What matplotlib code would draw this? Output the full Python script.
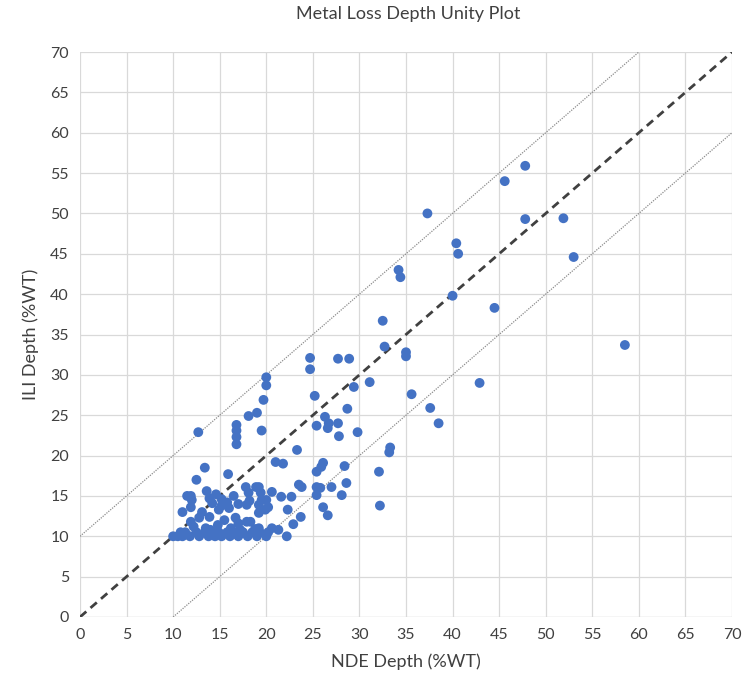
import matplotlib
matplotlib.use("Agg")
import matplotlib.pyplot as plt
import numpy as np

plt.rcParams['font.family'] = ['Lato', 'DejaVu Sans']

title = "Metal Loss Depth Unity Plot"
x_label = "NDE Depth (%WT)"
y_label = "ILI Depth (%WT)"
ticks = list(range(0, 75, 5))

nde = [58.5, 53.0, 51.9, 47.8, 45.6, 47.8, 44.5, 42.9, 40.4, 40.6, 40.0, 37.3, 34.2, 34.4,
       38.5, 37.6, 35.6, 35.0, 35.0, 32.7, 32.5, 31.1, 29.4, 28.9, 27.7, 24.7, 24.7, 25.2,
       28.7, 26.3, 26.7, 27.7, 26.6, 25.4, 27.8, 29.8, 33.3, 33.2, 23.3, 20.0, 20.0, 19.7,
       19.5, 19.0, 18.1, 16.8, 16.8, 16.8, 16.8, 12.7, 32.1, 32.2,
       21.0, 21.8, 26.1, 25.9, 25.4, 28.4, 28.6, 23.5, 23.8, 25.4, 25.8, 27.0, 28.1, 25.4,
       13.4, 15.9, 12.5, 17.8, 18.9, 19.2, 18.1, 19.4, 20.6, 11.5, 11.9, 13.6, 13.9, 15.2,
       15.8, 14.2, 14.9, 21.6, 22.7, 19.5, 20.0, 20.2, 19.9, 17.9, 19.2, 22.3, 26.1, 26.6,
       23.7, 22.9, 20.6, 22.2, 19.2, 19.2, 11.9, 11.0, 13.1, 12.8, 13.9, 16.7, 17.0, 17.9,
       18.3, 11.9,
       11.3, 12.5, 13.4, 14.3, 14.9, 15.8, 16.7, 17.5, 18.5, 19.3, 20.2,
       10.0, 10.5, 11.0, 11.8, 12.8, 13.8, 14.5, 15.2, 16.1, 17.0, 18.0, 19.0, 20.0,
       12.2, 13.5, 14.8, 15.5, 16.2, 14.0, 17.2, 18.8, 12.0, 16.0, 15.2, 17.0, 18.2, 16.5,
       14.6, 10.8, 21.3]
ili = [33.7, 44.6, 49.4, 55.9, 54.0, 49.3, 38.3, 29.0, 46.3, 45.0, 39.8, 50.0, 43.0, 42.1,
       24.0, 25.9, 27.6, 32.8, 32.3, 33.5, 36.7, 29.1, 28.5, 32.0, 32.0, 32.1, 30.7, 27.4,
       25.8, 24.8, 24.0, 24.0, 23.4, 23.7, 22.4, 22.9, 21.0, 20.4, 20.7, 29.7, 28.7, 26.9,
       23.1, 25.3, 24.9, 23.8, 23.1, 22.3, 21.4, 22.9, 18.0, 13.8,
       19.2, 19.0, 19.1, 18.6, 18.0, 18.7, 16.6, 16.4, 16.1, 16.1, 16.0, 16.1, 15.1, 15.1,
       18.5, 17.7, 17.0, 16.1, 16.1, 16.1, 15.4, 15.4, 15.5, 15.0, 15.0, 15.6, 14.7, 14.6,
       14.2, 14.1, 13.3, 14.9, 14.9, 14.5, 14.5, 13.6, 13.3, 13.9, 13.9, 13.3, 13.6, 12.6,
       12.4, 11.5, 11.0, 10.0, 12.9, 11.0, 13.6, 13.0, 13.0, 12.3, 12.4, 12.3, 11.6, 11.8,
       11.8, 11.8,
       10.5, 10.5, 10.5, 10.5, 10.5, 10.5, 10.5, 10.5, 10.5, 10.5, 10.5,
       10.0, 10.0, 10.0, 10.0, 10.0, 10.0, 10.0, 10.0, 10.0, 10.0, 10.0, 10.0, 10.0,
       11.2, 11.0, 11.4, 12.0, 11.0, 10.8, 10.8, 10.9, 14.5, 13.5, 13.8, 14.0, 14.4, 15.0,
       15.2, 10.5, 10.8]

unity = [0, 70]
upper_x = [0, 60]
upper_y = [10, 70]
lower_x = [10, 70]
lower_y = [0, 60]

fig = plt.figure(figsize=(7.43, 6.90), dpi=100)
ax = fig.add_axes([80/743, 73/690, 652/743, 565/690])

ax.set_xlim(0, 70)
ax.set_ylim(0, 70)
ax.set_xticks(ticks)
ax.set_yticks(ticks)
ax.grid(True, color='#d9d9d9', linewidth=0.9)
ax.set_axisbelow(True)
for s in ax.spines.values():
    s.set_visible(False)
ax.axhline(0, color='#d9d9d9', linewidth=0.9, zorder=0)
ax.tick_params(length=0, labelsize=11.5, colors='#404040', pad=8)

ax.plot(upper_x, upper_y, color='#8c8c8c', linestyle=(0, (1, 1)), linewidth=0.9, zorder=2)
ax.plot(lower_x, lower_y, color='#8c8c8c', linestyle=(0, (1, 1)), linewidth=0.9, zorder=2)
ax.plot(unity, unity, color='#404040', linestyle=(0, (3, 2)), linewidth=2.0, zorder=2)

ax.scatter(nde, ili, s=50, color='#4472C4', edgecolors='none', zorder=3)

ax.set_xlabel(x_label, fontsize=13, color='#404040', labelpad=8)
ax.set_ylabel(y_label, fontsize=13, color='#404040', labelpad=8)
fig.text(408/743, 1 - 14/690, title, ha='center', va='center', fontsize=13, color='#404040')

fig.savefig("out.png", dpi=100)
